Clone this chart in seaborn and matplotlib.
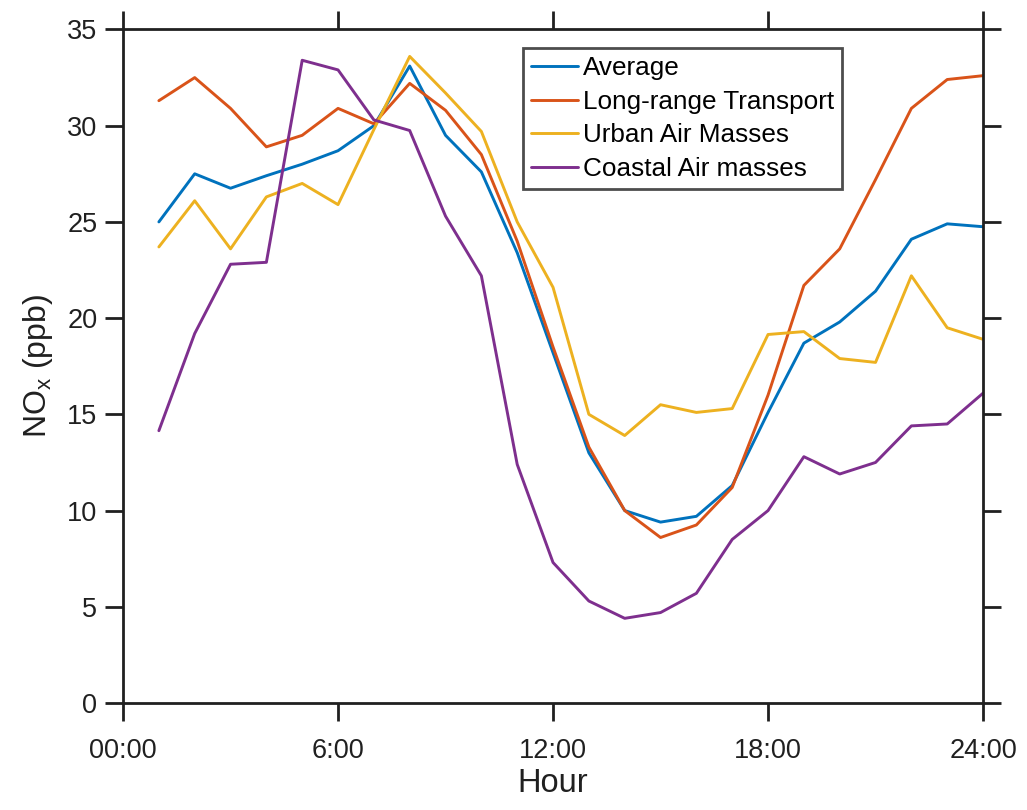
import numpy as np
import pandas as pd
import matplotlib
matplotlib.use("Agg")
import matplotlib.pyplot as plt
import seaborn as sns

hours = list(range(1, 25))
average = [25.0, 27.5, 26.75, 27.4, 28.0, 28.7, 30.0, 33.1, 29.5, 27.6, 23.4, 18.2,
           13.0, 10.0, 9.4, 9.7, 11.3, 15.1, 18.7, 19.8, 21.4, 24.1, 24.9, 24.75]
long_range = [31.3, 32.5, 30.9, 28.9, 29.5, 30.9, 30.1, 32.2, 30.8, 28.5, 24.0, 18.5,
              13.3, 10.0, 8.6, 9.25, 11.2, 16.0, 21.7, 23.6, 27.2, 30.9, 32.4, 32.6]
urban = [23.7, 26.1, 23.6, 26.3, 27.0, 25.9, 29.8, 33.6, 31.7, 29.7, 25.0, 21.6,
         15.0, 13.9, 15.5, 15.1, 15.3, 19.15, 19.3, 17.9, 17.7, 22.2, 19.5, 18.9]
coastal = [14.15, 19.2, 22.8, 22.9, 33.4, 32.9, 30.3, 29.75, 25.3, 22.2, 12.4, 7.3,
           5.3, 4.4, 4.7, 5.7, 8.5, 10.0, 12.8, 11.9, 12.5, 14.4, 14.5, 16.1]

series_names = ["Average", "Long-range Transport", "Urban Air Masses", "Coastal Air masses"]
colors = ["#0072BD", "#D95319", "#EDB120", "#7E2F8E"]
xticks = [0, 6, 12, 18, 24]
xticklabels = ["00:00", "6:00", "12:00", "18:00", "24:00"]
yticks = [0, 5, 10, 15, 20, 25, 30, 35]

df = pd.concat([
    pd.DataFrame({"Hour": hours, "NOx": vals, "Series": name})
    for name, vals in zip(series_names, [average, long_range, urban, coastal])
])

sns.set_style("white")
plt.rcParams["font.family"] = ["Liberation Sans", "DejaVu Sans"]
plt.rcParams["mathtext.fontset"] = "custom"
plt.rcParams["mathtext.rm"] = "Liberation Sans"
plt.rcParams["mathtext.it"] = "Liberation Sans"

fig = plt.figure(figsize=(10.27, 8.10), dpi=100)
ax = fig.add_axes([0.1198, 0.1321, 0.9572 - 0.1198, 0.9636 - 0.1321])

sns.lineplot(data=df, x="Hour", y="NOx", hue="Series", hue_order=series_names,
             palette=colors, linewidth=2.1, ax=ax, legend=True)

ax.set_xlim(0, 24)
ax.set_ylim(0, 35)
ax.set_xticks(xticks)
ax.set_xticklabels(xticklabels)
ax.set_yticks(yticks)

ink = "#202020"
for s in ax.spines.values():
    s.set_visible(True)
    s.set_linewidth(2.0)
    s.set_color(ink)

ax.tick_params(axis="both", which="major", direction="out", length=13, width=2.0,
               color=ink, labelsize=19.5, labelcolor=ink,
               top=True, right=True, bottom=True, left=True)
ax.tick_params(axis="x", pad=12)
ax.tick_params(axis="y", pad=5.5)

ax.set_xlabel("Hour", fontsize=23.5, color=ink, labelpad=3)
ax.set_ylabel(r"NO$_\mathregular{x}$ (ppb)", fontsize=23, color=ink, labelpad=9)

handles, labels = ax.get_legend_handles_labels()
leg = ax.legend(handles, labels, loc="upper left", bbox_to_anchor=(0.465, 0.972),
                borderaxespad=0, fontsize=18.8, frameon=True, fancybox=False,
                handlelength=1.8, handletextpad=0.2, labelspacing=0.37,
                borderpad=0.3, edgecolor=ink)
leg.get_frame().set_linewidth(2.0)
for text in leg.get_texts():
    text.set_color("black")
for line in leg.get_lines():
    line.set_linewidth(2.1)

fig.savefig("out.png", dpi=100, facecolor="white")
